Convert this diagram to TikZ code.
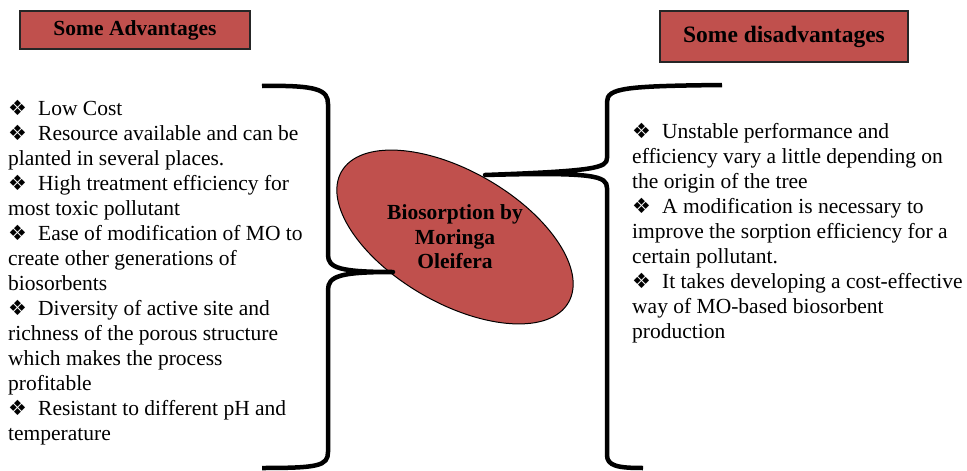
\documentclass[tikz,border=0pt]{standalone}
\usepackage{fontspec}
\setmainfont{Liberation Serif}
\newfontfamily\symfont{DejaVu Sans}
\usepackage{xcolor}
\usetikzlibrary{shapes.geometric}
\definecolor{moRed}{HTML}{C0504D}
\newcommand{\bul}{\makebox[30pt][l]{\symfont\fontsize{21}{21}\selectfont ❖}}

\begin{document}
\begin{tikzpicture}[x=1pt,y=-1pt,
  head node/.style={rectangle,draw=black!85,line width=1.2pt,fill=moRed,inner sep=0pt,font=\bfseries\fontsize{21.5}{25}\selectfont},
  list node/.style={align=left,inner sep=0pt,anchor=north west,font=\fontsize{21.5}{25}\selectfont},
  brace line/.style={line width=4.5pt,line join=round}]

  \useasboundingbox (0,0) rectangle (967,471);

  \node[head node,minimum width=230pt,minimum height=38pt] (adv) at (135,30) {Some Advantages};
  \node[head node,minimum width=248pt,minimum height=51pt,font=\bfseries\fontsize{23.5}{25}\selectfont] (disadv) at (784,36.5) {Some disadvantages};

  \node[ellipse,draw=black,line width=1pt,fill=moRed,rotate=-30,minimum width=262pt,minimum height=132pt,inner sep=0pt] (bio) at (455,237) {};
  \node[align=center,font=\bfseries\fontsize{21.5}{24.5}\selectfont] (biotext) at (bio.center) {Biosorption by\\Moringa\\Oleifera};

  \node[list node] (advlist) at (8,100) {\bul Low Cost\\
    \bul Resource available and can be\\
    planted in several places.\\
    \bul High treatment efficiency for\\
    most toxic pollutant\\
    \bul Ease of modification of MO to\\
    create other generations of\\
    biosorbents\\
    \bul Diversity of active site and\\
    richness of the porous structure\\
    which makes the process\\
    profitable\\
    \bul Resistant to different pH and\\
    temperature};

  \node[list node] (disadvlist) at (632,123) {\bul Unstable performance and\\
    efficiency vary a little depending on\\
    the origin of the tree\\
    \bul A modification is necessary to\\
    improve the sorption efficiency for a\\
    certain pollutant.\\
    \bul It takes developing a cost-effective\\
    way of MO-based biosorbent\\
    production};

  \coordinate (advtop) at (262,86);
  \coordinate (advtip) at (393,272);
  \coordinate (advbot) at (262,468);
  \coordinate (distop) at (722,85);
  \coordinate (distip) at (485,175);
  \coordinate (disbot) at (643,468);

  \draw[brace line] (advtop) .. controls (318,85) and (328,90) .. (328,104) -- (328,255)
    .. controls (328,268) and (340,272) .. (advtip)
    .. controls (340,272) and (328,276) .. (328,290) -- (328,452)
    .. controls (328,466) and (318,468) .. (advbot);
  \draw[brace line] (distop) .. controls (625,86) and (607,88) .. (607,102) -- (607,158)
    .. controls (607,168) and (595,171) .. (distip)
    .. controls (595,172) and (607,176) .. (607,188) -- (607,455)
    .. controls (607,466) and (618,468) .. (disbot);
\end{tikzpicture}
\end{document}
